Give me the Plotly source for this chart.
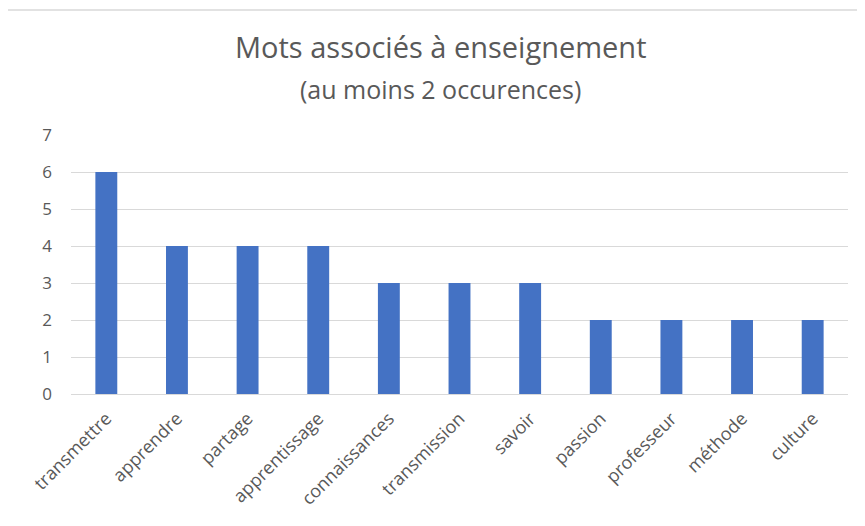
import plotly.graph_objects as go

categories = ["transmettre", "apprendre", "partage", "apprentissage", "connaissances",
              "transmission", "savoir", "passion", "professeur", "méthode", "culture"]
counts = [6, 4, 4, 4, 3, 3, 3, 2, 2, 2, 2]
y_ticks = [0, 1, 2, 3, 4, 5, 6, 7]

title_text = "Mots associés à enseignement"
subtitle_text = "(au moins 2 occurences)"

FONT = "Open Sans"
GRAY = "#595959"

fig = go.Figure(go.Bar(
    x=categories, y=counts,
    marker=dict(color="#4472C4", line=dict(width=0)),
    width=0.31,
))

OFF = 8  # page body margin
W, H = 865 - OFF, 526 - OFF
L, T = 71 - OFF, 135 - OFF
pw, ph = 777, 259
R, B = W - L - pw, H - T - ph


def px_x(x):
    return (x - OFF - L) / pw


def px_y(y):
    return (T + ph - (y - OFF)) / ph


fig.update_layout(
    width=W, height=H,
    margin=dict(l=L, r=R, t=T, b=B, autoexpand=False),
    paper_bgcolor="white", plot_bgcolor="white",
    showlegend=False,
    font=dict(family=FONT, color=GRAY),
    xaxis=dict(
        tickangle=-45, tickfont=dict(size=18, color=GRAY, family=FONT),
        showgrid=False, showline=True, linecolor="#d9d9d9", linewidth=1,
        ticks="", ticklabelstandoff=6,
    ),
    yaxis=dict(
        range=[0, 7], tickvals=y_ticks, tickfont=dict(size=17, color=GRAY, family=FONT),
        showgrid=True, gridcolor="#d9d9d9", gridwidth=1, zeroline=False,
        showline=False, ticks="", ticklabelstandoff=18,
    ),
    annotations=[
        dict(text=title_text, xref="paper", yref="paper", x=px_x(440), y=px_y(46),
             xanchor="center", yanchor="middle", showarrow=False,
             font=dict(size=29, color=GRAY, family=FONT)),
        dict(text=subtitle_text, xref="paper", yref="paper", x=px_x(440), y=px_y(89),
             xanchor="center", yanchor="middle", showarrow=False,
             font=dict(size=25, color=GRAY, family=FONT)),
    ],
    shapes=[
        dict(type="line", xref="paper", yref="paper",
             x0=px_x(7), x1=px_x(7), y0=px_y(10), y1=px_y(560),
             line=dict(color="#d9d9d9", width=1.5)),
        dict(type="line", xref="paper", yref="paper",
             x0=px_x(7), x1=px_x(900), y0=px_y(10), y1=px_y(10),
             line=dict(color="#d9d9d9", width=1.5)),
    ],
)

fig.write_html("out.html")
